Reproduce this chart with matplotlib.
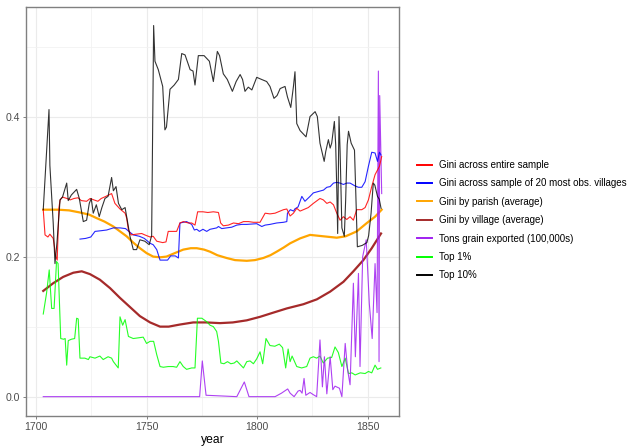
import matplotlib
matplotlib.use("Agg")
import matplotlib.pyplot as plt

plt.rcParams["font.family"] = ["Liberation Sans", "DejaVu Sans"]

# Top 10% share
top10_years = [1703.3, 1705.9, 1706.3, 1707.8, 1708.6, 1709.5, 1710.9, 1712.0, 1713.9, 1714.6,
               1716.0, 1718.4, 1719.6, 1721.4, 1722.9, 1724.1, 1725.0, 1725.9, 1727.3, 1728.6,
               1729.8, 1731.2, 1732.6, 1734.2, 1735.0, 1736.2, 1737.3, 1738.8, 1740.3, 1741.5,
               1742.5, 1744.0, 1745.5, 1747.0, 1749.2, 1751.2, 1752.3, 1753.2, 1753.8, 1755.3,
               1757.3, 1758.3, 1759.0, 1760.6, 1762.5, 1764.4, 1765.9, 1767.4, 1769.7, 1771.0,
               1771.9, 1773.4, 1776.0, 1778.4, 1780.2, 1782.0, 1783.0, 1784.7, 1786.5, 1788.8,
               1790.5, 1792.3, 1793.4, 1794.5, 1796.0, 1797.6, 1799.8, 1802.0, 1804.3, 1805.8,
               1807.6, 1809.0, 1810.4, 1812.6, 1813.7, 1815.2, 1816.4, 1817.1, 1817.9, 1819.4,
               1822.1, 1823.9, 1826.2, 1827.2, 1828.4, 1830.3, 1831.0, 1832.2, 1833.0, 1833.7,
               1834.9, 1835.5, 1836.0, 1836.4, 1837.0, 1837.5, 1838.3, 1839.4, 1840.0, 1840.7,
               1841.3, 1842.5, 1844.0, 1844.5, 1845.3, 1847.5, 1849.6, 1850.4, 1851.5, 1852.5,
               1853.2, 1854.4, 1855.2, 1856.0]
top10_vals = [0.267, 0.410, 0.330, 0.248, 0.190, 0.220, 0.281, 0.285, 0.305, 0.280,
              0.288, 0.296, 0.283, 0.250, 0.252, 0.276, 0.283, 0.262, 0.274, 0.257,
              0.270, 0.283, 0.286, 0.313, 0.294, 0.300, 0.276, 0.267, 0.270, 0.248,
              0.229, 0.210, 0.210, 0.224, 0.222, 0.217, 0.230, 0.530, 0.479, 0.467,
              0.443, 0.381, 0.385, 0.439, 0.445, 0.453, 0.490, 0.488, 0.467, 0.465,
              0.445, 0.487, 0.487, 0.479, 0.450, 0.493, 0.487, 0.461, 0.453, 0.436,
              0.450, 0.460, 0.453, 0.436, 0.442, 0.438, 0.456, 0.453, 0.450, 0.443,
              0.426, 0.430, 0.440, 0.443, 0.428, 0.413, 0.443, 0.464, 0.390, 0.380,
              0.371, 0.400, 0.407, 0.400, 0.362, 0.336, 0.350, 0.367, 0.355, 0.362,
              0.393, 0.360, 0.295, 0.233, 0.400, 0.350, 0.241, 0.229, 0.280, 0.360,
              0.379, 0.362, 0.352, 0.300, 0.214, 0.216, 0.220, 0.230, 0.262, 0.305,
              0.302, 0.286, 0.282, 0.269]

# Gini across entire sample
gini_all_years = [1703.3, 1704.1, 1705.4, 1706.3, 1707.8, 1709.0, 1709.6, 1710.4, 1710.9, 1712.0,
                  1714.0, 1715.5, 1717.2, 1719.0, 1720.5, 1722.9, 1724.5, 1726.2, 1728.0, 1729.5,
                  1731.6, 1734.2, 1735.7, 1738.0, 1740.3, 1741.0, 1741.8, 1743.0, 1745.3, 1747.8,
                  1749.2, 1751.6, 1753.0, 1754.6, 1757.3, 1758.8, 1759.8, 1762.0, 1763.6, 1765.1,
                  1766.6, 1768.9, 1770.4, 1771.9, 1773.1, 1775.5, 1777.7, 1780.2, 1782.5, 1783.5,
                  1784.7, 1787.0, 1789.3, 1791.6, 1793.8, 1796.1, 1798.3, 1801.3, 1803.6, 1805.8,
                  1808.1, 1809.6, 1811.9, 1813.4, 1814.9, 1816.4, 1817.9, 1819.4, 1820.9, 1823.1,
                  1825.4, 1828.4, 1829.9, 1831.5, 1833.0, 1834.5, 1836.0, 1837.5, 1839.0, 1840.5,
                  1842.0, 1843.5, 1845.0, 1847.3, 1848.8, 1850.3, 1851.8, 1853.3, 1855.3, 1856.3]
gini_all_vals = [0.267, 0.231, 0.228, 0.232, 0.226, 0.200, 0.195, 0.270, 0.281, 0.285,
                 0.283, 0.281, 0.283, 0.284, 0.280, 0.279, 0.283, 0.281, 0.279, 0.283,
                 0.286, 0.290, 0.276, 0.268, 0.262, 0.255, 0.238, 0.231, 0.232, 0.233,
                 0.231, 0.228, 0.229, 0.222, 0.220, 0.221, 0.236, 0.236, 0.236, 0.248,
                 0.250, 0.248, 0.248, 0.245, 0.264, 0.264, 0.263, 0.264, 0.263, 0.248,
                 0.244, 0.245, 0.248, 0.247, 0.250, 0.250, 0.249, 0.249, 0.262, 0.261,
                 0.262, 0.264, 0.267, 0.268, 0.258, 0.262, 0.269, 0.265, 0.267, 0.270,
                 0.276, 0.283, 0.281, 0.276, 0.278, 0.274, 0.262, 0.252, 0.257, 0.253,
                 0.257, 0.252, 0.267, 0.267, 0.270, 0.281, 0.300, 0.317, 0.329, 0.343]

# Gini across the 20 most observed villages
gini_20_years = [1719.9, 1722.5, 1724.8, 1726.7, 1729.5, 1732.0, 1735.0, 1738.0, 1740.5, 1742.0,
                 1744.0, 1746.8, 1749.0, 1751.6, 1753.0, 1754.6, 1755.6, 1756.1, 1759.5, 1760.9,
                 1763.0, 1764.4, 1765.1, 1768.1, 1770.4, 1771.6, 1772.7, 1773.9, 1775.5, 1777.2,
                 1778.7, 1781.7, 1782.5, 1784.0, 1786.2, 1788.5, 1790.8, 1793.0, 1795.3, 1799.8,
                 1802.1, 1803.6, 1805.8, 1808.8, 1811.9, 1813.4, 1813.7, 1815.0, 1816.5, 1817.0,
                 1818.5, 1819.4, 1820.2, 1821.6, 1823.9, 1825.4, 1827.7, 1830.0, 1831.5, 1833.0,
                 1834.5, 1836.0, 1837.5, 1839.0, 1840.5, 1842.0, 1844.2, 1845.8, 1847.3, 1848.8,
                 1850.3, 1851.8, 1853.3, 1854.4, 1855.3, 1856.0]
gini_20_vals = [0.225, 0.226, 0.228, 0.236, 0.237, 0.238, 0.241, 0.241, 0.240, 0.236,
                0.231, 0.229, 0.226, 0.219, 0.217, 0.210, 0.200, 0.195, 0.195, 0.201,
                0.201, 0.198, 0.248, 0.250, 0.246, 0.238, 0.239, 0.236, 0.239, 0.236,
                0.239, 0.241, 0.243, 0.240, 0.241, 0.242, 0.245, 0.246, 0.246, 0.247,
                0.243, 0.245, 0.246, 0.248, 0.249, 0.250, 0.262, 0.267, 0.265, 0.268,
                0.271, 0.279, 0.286, 0.279, 0.286, 0.291, 0.293, 0.295, 0.299, 0.300,
                0.305, 0.306, 0.305, 0.303, 0.305, 0.305, 0.301, 0.299, 0.299, 0.307,
                0.329, 0.349, 0.348, 0.336, 0.349, 0.345]

# Gini by parish (average), smoothed
parish_years = [1703.3, 1710, 1715, 1719.9, 1724, 1727.4, 1731, 1735, 1738, 1741,
                1744, 1747, 1750, 1753, 1756.1, 1759, 1762, 1766.6, 1770, 1772.7,
                1776, 1778.7, 1782, 1786.2, 1790, 1795.3, 1799, 1802.8, 1806, 1808.8,
                1812, 1814.9, 1819.4, 1823.9, 1829.9, 1836, 1840, 1845, 1849.6, 1853.3,
                1856.3]
parish_vals = [0.267, 0.267, 0.266, 0.263, 0.260, 0.255, 0.250, 0.243, 0.236, 0.229,
               0.220, 0.212, 0.205, 0.200, 0.199, 0.200, 0.204, 0.210, 0.212, 0.212,
               0.210, 0.207, 0.202, 0.198, 0.195, 0.194, 0.195, 0.198, 0.202, 0.207,
               0.213, 0.219, 0.226, 0.231, 0.229, 0.227, 0.229, 0.236, 0.248, 0.257,
               0.267]

# Gini by village (average), smoothed
village_years = [1703.3, 1707.8, 1712.3, 1716.9, 1720.7, 1724.4, 1728.9, 1733.5, 1738, 1742.5,
                 1747, 1751.6, 1756.1, 1760, 1765.1, 1771.1, 1777, 1783.2, 1789, 1795.3,
                 1801.3, 1807.3, 1813.4, 1820.9, 1827, 1833, 1839, 1843.5, 1848, 1851.8,
                 1856]
village_vals = [0.151, 0.162, 0.171, 0.177, 0.179, 0.175, 0.167, 0.155, 0.141, 0.128,
                0.115, 0.106, 0.100, 0.100, 0.103, 0.106, 0.106, 0.105, 0.106, 0.109,
                0.114, 0.120, 0.126, 0.132, 0.139, 0.150, 0.164, 0.179, 0.195, 0.212,
                0.233]

# Tons of grain exported (100,000s)
grain_years = [1703.3, 1774.0, 1775.2, 1776.9, 1790.8, 1794.2, 1796.3, 1808.1, 1811.0, 1813.8,
               1814.9, 1816.7, 1818.5, 1819.4, 1820.3, 1821.2, 1822.0, 1823.9, 1825.3, 1826.9,
               1828.4, 1829.5, 1830.4, 1831.5, 1833.0, 1834.2, 1835.2, 1837.2, 1838.3, 1839.8,
               1840.9, 1842.0, 1843.5, 1844.4, 1845.8, 1846.5, 1847.7, 1849.3, 1850.7, 1852.0,
               1853.3, 1854.2, 1854.8, 1855.1, 1855.4, 1856.3]
grain_vals = [0.000, 0.000, 0.051, 0.002, 0.000, 0.021, 0.000, 0.000, 0.005, 0.011,
              0.005, 0.000, 0.008, 0.009, 0.005, 0.026, 0.002, 0.006, 0.003, 0.000,
              0.081, 0.014, 0.057, 0.004, 0.057, 0.010, 0.015, 0.012, 0.000, 0.076,
              0.038, 0.017, 0.162, 0.057, 0.176, 0.043, 0.200, 0.224, 0.133, 0.083,
              0.190, 0.120, 0.465, 0.050, 0.430, 0.290]

# Top 1% share
top1_years = [1703.3, 1704.8, 1706.0, 1707.1, 1708.2, 1709.3, 1710.0, 1711.2, 1712.5, 1713.2,
              1713.9, 1714.6, 1716.0, 1717.5, 1718.4, 1719.1, 1719.9, 1722.1, 1723.7, 1724.4,
              1726.7, 1728.9, 1730.4, 1732.6, 1734.2, 1735.0, 1737.2, 1738.0, 1739.2, 1740.3,
              1741.8, 1744.0, 1746.3, 1748.5, 1750.0, 1751.6, 1753.2, 1754.6, 1756.1, 1757.6,
              1759.8, 1762.0, 1763.6, 1765.1, 1766.6, 1768.1, 1770.4, 1771.9, 1773.0, 1775.0,
              1777.2, 1778.7, 1780.2, 1781.7, 1782.5, 1783.6, 1785.0, 1786.6, 1788.1, 1789.6,
              1790.8, 1792.0, 1793.8, 1795.3, 1796.8, 1798.3, 1799.8, 1801.3, 1802.5, 1804.0,
              1805.8, 1808.0, 1810.0, 1811.5, 1812.9, 1814.0, 1814.9, 1815.8, 1817.9, 1820.1,
              1822.4, 1823.9, 1825.4, 1826.9, 1828.4, 1829.9, 1831.8, 1833.7, 1835.2, 1836.7,
              1838.3, 1839.8, 1841.3, 1842.8, 1844.3, 1846.6, 1848.8, 1850.3, 1851.8, 1853.3,
              1854.4, 1855.9]
top1_vals = [0.118, 0.148, 0.181, 0.126, 0.126, 0.193, 0.190, 0.083, 0.082, 0.083,
             0.045, 0.080, 0.082, 0.083, 0.112, 0.111, 0.055, 0.055, 0.053, 0.057,
             0.055, 0.058, 0.053, 0.057, 0.055, 0.050, 0.041, 0.114, 0.102, 0.110,
             0.086, 0.083, 0.084, 0.085, 0.076, 0.079, 0.079, 0.060, 0.043, 0.042,
             0.043, 0.043, 0.042, 0.050, 0.043, 0.039, 0.041, 0.041, 0.112, 0.112,
             0.107, 0.102, 0.100, 0.093, 0.079, 0.048, 0.047, 0.050, 0.047, 0.048,
             0.051, 0.047, 0.041, 0.050, 0.051, 0.047, 0.054, 0.064, 0.047, 0.083,
             0.073, 0.072, 0.075, 0.070, 0.041, 0.068, 0.050, 0.058, 0.043, 0.041,
             0.043, 0.055, 0.057, 0.055, 0.058, 0.048, 0.055, 0.056, 0.071, 0.063,
             0.043, 0.055, 0.033, 0.034, 0.031, 0.034, 0.033, 0.036, 0.034, 0.045,
             0.039, 0.041]

labels = ["Gini across entire sample",
          "Gini across sample of 20 most obs. villages",
          "Gini by parish (average)",
          "Gini by village (average)",
          "Tons grain exported (100,000s)",
          "Top 1%",
          "Top 10%"]
colors = ["#FF0000", "#0000FF", "#FFA500", "#A52A2A", "#A020F0", "#00FF00", "#000000"]

fig = plt.figure(figsize=(6.31, 4.46), dpi=100)
ax = fig.add_axes([0.0412, 0.0673, 0.5907, 0.9163])

# smooth averages underneath, raw series on top
thin = dict(lw=0.8, alpha=0.85)
h_village, = ax.plot(village_years, village_vals, color=colors[3], lw=1.6)
h_parish, = ax.plot(parish_years, parish_vals, color=colors[2], lw=1.6)
h_top1, = ax.plot(top1_years, top1_vals, color=colors[5], **thin)
h_grain, = ax.plot(grain_years, grain_vals, color=colors[4], **thin)
h_g20, = ax.plot(gini_20_years, gini_20_vals, color=colors[1], **thin)
h_all, = ax.plot(gini_all_years, gini_all_vals, color=colors[0], **thin)
h_top10, = ax.plot(top10_years, top10_vals, color=colors[6], lw=0.8, alpha=0.8)

ax.set_xlim(1695.5, 1864.0)
ax.set_ylim(-0.0276, 0.556)
ax.set_xticks([1700, 1750, 1800, 1850])
ax.set_xticks([1725, 1775, 1825], minor=True)
ax.set_yticks([0.0, 0.2, 0.4])
ax.set_yticklabels(["0.0", "0.2", "0.4"])
ax.set_yticks([0.1, 0.3, 0.5], minor=True)
ax.grid(True, which="major", color="#EBEBEB", lw=0.8)
ax.grid(True, which="minor", color="#F2F2F2", lw=0.6)
ax.set_axisbelow(True)

for s in ax.spines.values():
    s.set_color("#808080")
    s.set_linewidth(1.0)
ax.tick_params(which="major", length=2.5, width=0.7, color="#808080",
               labelsize=7.6, labelcolor="#4D4D4D", pad=2)
ax.tick_params(which="minor", length=0)
ax.set_xlabel("year", fontsize=8.7, color="black", labelpad=1.5)

legend_handles = [h_all, h_g20, h_parish, h_village, h_grain, h_top1, h_top10]
leg = fig.legend(legend_handles, labels, loc="center left",
                 bbox_to_anchor=(417 / 631, 1 - 220.2 / 446),
                 frameon=False, fontsize=7, handlelength=1.55, handletextpad=0.75,
                 labelspacing=0.86, borderpad=0, borderaxespad=0)
for line in leg.get_lines():
    line.set_linewidth(1.4)
    line.set_alpha(1.0)

fig.savefig("out.png", dpi=100)
